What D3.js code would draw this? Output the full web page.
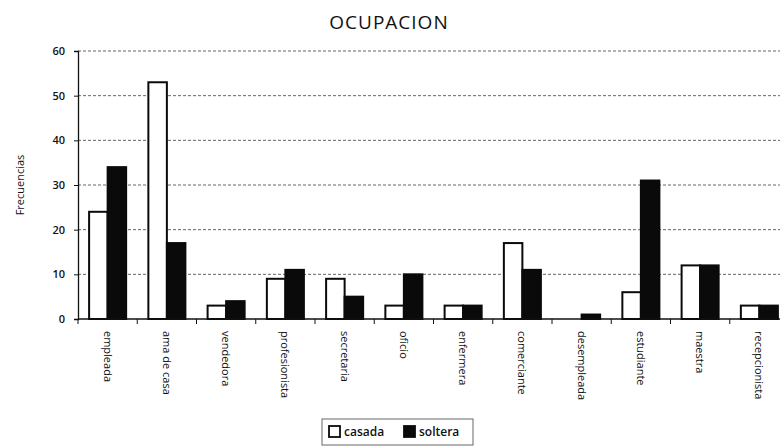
<!DOCTYPE html>
<html>
<head>
<meta charset="utf-8">
<script src="https://cdn.jsdelivr.net/npm/d3@7/dist/d3.min.js"></script>
<style>
  html, body { margin: 0; padding: 0; background: #fff; }
  svg { display: block; }
  text { font-family: "Open Sans", "DejaVu Sans", sans-serif; fill: #111; }
</style>
</head>
<body>
<svg id="chart" width="780" height="446"></svg>
<script>
// Ocupación de las encuestadas, por estado civil
const categories = ["empleada", "ama de casa", "vendedora", "profesionista", "secretaria", "oficio",
                    "enfermera", "comerciante", "desempleada", "estudiante", "maestra", "recepcionista"];
const casada  = [24, 53, 3, 9, 9, 3, 3, 17, 0, 6, 12, 3];
const soltera = [34, 17, 4, 11, 5, 10, 3, 11, 1, 31, 12, 3];
const seriesNames = ["casada", "soltera"];
const yTicks = [0, 10, 20, 30, 40, 50, 60];

const svg = d3.select("#chart");
const plotL = 78, plotR = 789, plotT = 51, plotB = 319;

const x = d3.scaleBand().domain(categories).range([plotL, plotR]).paddingInner(0).paddingOuter(0);
const xs = d3.scaleBand().domain(seriesNames).range([0, x.bandwidth()]).paddingInner(0).paddingOuter(0.6);
const y = d3.scaleLinear().domain([0, 60]).range([plotB, plotT]);

// horizontal gridlines
svg.append("g")
  .selectAll("line")
  .data(yTicks.filter(d => d > 0))
  .join("line")
  .attr("x1", plotL).attr("x2", plotR)
  .attr("y1", d => y(d)).attr("y2", d => y(d))
  .attr("stroke", "#666").attr("stroke-width", 1)
  .attr("stroke-dasharray", "3,2");

// y axis
const yAxis = svg.append("g")
  .attr("transform", `translate(${plotL},0)`)
  .call(d3.axisLeft(y).tickValues(yTicks).tickSize(4).tickPadding(9));
yAxis.select(".domain").attr("stroke", "#111").attr("stroke-width", 1.3);
yAxis.selectAll(".tick line").attr("stroke", "#111");
yAxis.selectAll("text").style("font-size", "11px").style("font-weight", "600");

// bars
const groups = svg.append("g")
  .selectAll("g")
  .data(categories.map((c, i) => ({ c, vals: [casada[i], soltera[i]] })))
  .join("g")
  .attr("transform", d => `translate(${x(d.c)},0)`);

groups.selectAll("rect")
  .data(d => d.vals.map((v, j) => ({ key: seriesNames[j], v })))
  .join("rect")
  .filter(d => d.v > 0)
  .attr("x", d => xs(d.key))
  .attr("width", xs.bandwidth())
  .attr("y", d => y(d.v))
  .attr("height", d => y(0) - y(d.v))
  .attr("fill", d => d.key === "casada" ? "#fff" : "#0a0a0a")
  .attr("stroke", "#0a0a0a")
  .attr("stroke-width", 2);

// x axis
const xAxis = svg.append("g")
  .attr("transform", `translate(0,${plotB})`);
xAxis.append("line")
  .attr("x1", plotL).attr("x2", plotR)
  .attr("stroke", "#111").attr("stroke-width", 1.3);
xAxis.selectAll("line.tk")
  .data(categories)
  .join("line")
  .attr("class", "tk")
  .attr("x1", d => x(d)).attr("x2", d => x(d))
  .attr("y1", 0).attr("y2", 5)
  .attr("stroke", "#111");
xAxis.selectAll("text")
  .data(categories)
  .join("text")
  .attr("transform", d => `translate(${x(d) + x.bandwidth() / 2 - 4},12) rotate(90)`)
  .attr("text-anchor", "start")
  .style("font-size", "11px")
  .text(d => d);

// title
svg.append("text")
  .attr("x", 389).attr("y", 29)
  .attr("text-anchor", "middle")
  .style("font-size", "19px")
  .style("letter-spacing", "1px")
  .text("OCUPACION");

// y label
svg.append("text")
  .attr("transform", "translate(24,185) rotate(-90)")
  .attr("text-anchor", "middle")
  .style("font-size", "11px")
  .text("Frecuencias");

// legend
const lg = svg.append("g").attr("transform", "translate(322,419)");
lg.append("rect").attr("width", 151).attr("height", 26)
  .attr("fill", "#fff").attr("stroke", "#666").attr("stroke-width", 1);
const items = lg.selectAll("g").data(seriesNames).join("g")
  .attr("transform", (d, i) => `translate(${i === 0 ? 7 : 82},7)`);
items.append("rect").attr("width", 11).attr("height", 11)
  .attr("fill", d => d === "casada" ? "#fff" : "#0a0a0a")
  .attr("stroke", "#0a0a0a").attr("stroke-width", 1.8);
items.append("text").attr("x", 15).attr("y", 10)
  .style("font-size", "12px").style("font-weight", "600")
  .text(d => d);
</script>
</body>
</html>
